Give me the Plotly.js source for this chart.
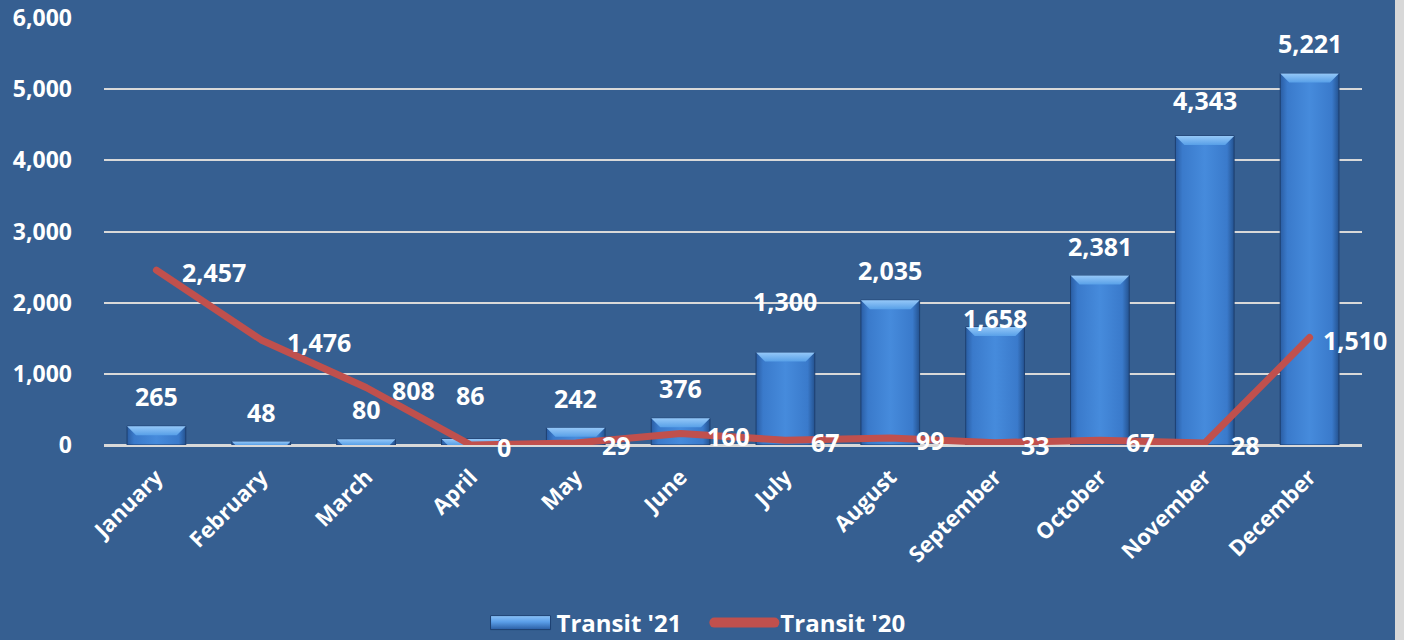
<!DOCTYPE html>
<html>
<head>
<meta charset="utf-8">
<script src="https://cdn.plot.ly/plotly-3.0.1.min.js"></script>
<style>
  html, body { margin: 0; padding: 0; background: #365f91; }
  #chart { width: 1404px; height: 640px; }
</style>
</head>
<body>
<div id="chart"></div>
<script>
const months = ['January','February','March','April','May','June','July','August','September','October','November','December'];
const transit21 = [265, 48, 80, 86, 242, 376, 1300, 2035, 1658, 2381, 4343, 5221];
const transit20 = [2457, 1476, 808, 0, 29, 160, 67, 99, 33, 67, 28, 1510];
const yTicks = [0, 1000, 2000, 3000, 4000, 5000, 6000];

// manual label nudges (pixels) as placed in the original chart
const barLabelNudge = { 3: 14, 6: 21, 8: -21, 10: 6 };
const lineLabelNudgeX = { 11: -13 };

const FONT = 'Open Sans, Noto Sans, sans-serif';
const fmt = v => v.toLocaleString('en-US');

const barTrace = {
  type: 'bar', name: "Transit '21", x: months, y: transit21,
  marker: { color: '#3f80d4', line: { color: '#1d3f70', width: 1 } },
  hoverinfo: 'none'
};
const lineTrace = {
  type: 'scatter', mode: 'lines', name: "Transit '20", x: months, y: transit20,
  line: { color: '#c0504d', width: 7 },
  hoverinfo: 'none'
};

const annotations = [];
transit21.forEach((v, i) => {
  annotations.push({
    x: months[i], y: v, xref: 'x', yref: 'y', text: '<b>' + fmt(v) + '</b>',
    showarrow: false, yanchor: 'bottom', yshift: 11 + (barLabelNudge[i] || 0),
    font: { family: FONT, size: 25, color: '#ffffff' }
  });
});
transit20.forEach((v, i) => {
  annotations.push({
    x: months[i], y: v, xref: 'x', yref: 'y', text: '<b>' + fmt(v) + '</b>',
    showarrow: false, xanchor: 'left', yanchor: 'middle',
    xshift: 24 + (lineLabelNudgeX[i] || 0), yshift: -2,
    font: { family: FONT, size: 25, color: '#ffffff' }
  });
});

const layout = {
  width: 1404, height: 640,
  paper_bgcolor: '#365f91', plot_bgcolor: '#365f91',
  margin: { l: 104, r: 42, t: 18, b: 195, autoexpand: false },
  bargap: 0.44,
  showlegend: true,
  legend: {
    orientation: 'h', xref: 'container', yref: 'container',
    x: 0.489, xanchor: 'center', y: (640 - 623) / 640, yanchor: 'middle',
    font: { family: FONT, size: 24, color: '#ffffff', weight: 'bold' },
    itemwidth: 60, traceorder: 'normal', bgcolor: 'rgba(0,0,0,0)', tracegroupgap: 0
  },
  xaxis: {
    type: 'category', range: [-0.5, 11.5], automargin: false,
    tickangle: -45, showgrid: false, showline: false, zeroline: false,
    tickfont: { family: FONT, size: 22, color: '#ffffff', weight: 'bold' },
    ticks: '', ticklabelstandoff: 14, fixedrange: true
  },
  yaxis: {
    range: [0, 6000], tickvals: yTicks, ticktext: yTicks.map(fmt), automargin: false,
    showgrid: true, gridcolor: '#d9d9d9', gridwidth: 2,
    zeroline: true, zerolinecolor: '#d9d9d9', zerolinewidth: 3,
    showline: false, ticks: '', ticklabelstandoff: 31,
    tickfont: { family: FONT, size: 23, color: '#ffffff', weight: 'bold' },
    fixedrange: true
  },
  shapes: [{
    type: 'rect', xref: 'paper', yref: 'paper',
    x0: (1395 - 104) / 1258, x1: 1.05, y0: -0.5, y1: 1.1,
    fillcolor: '#d8d8d8', line: { width: 0 }, layer: 'above'
  }],
  annotations: annotations
};

Plotly.newPlot('chart', [barTrace, lineTrace], layout, { displayModeBar: false, staticPlot: true }).then(gd => {
  const svg = gd.querySelector('.main-svg');
  const NS = 'http://www.w3.org/2000/svg';
  let defs = svg.querySelector('defs');
  if (!defs) { defs = document.createElementNS(NS, 'defs'); svg.insertBefore(defs, svg.firstChild); }
  function grad(id, stops, vertical) {
    const g = document.createElementNS(NS, 'linearGradient');
    g.setAttribute('id', id);
    g.setAttribute('x1', '0'); g.setAttribute('y1', '0');
    g.setAttribute('x2', vertical ? '0' : '1'); g.setAttribute('y2', vertical ? '1' : '0');
    stops.forEach(([o, c]) => {
      const s = document.createElementNS(NS, 'stop');
      s.setAttribute('offset', o); s.setAttribute('stop-color', c);
      g.appendChild(s);
    });
    defs.appendChild(g);
  }
  grad('barBody', [['0', '#2a5da3'], ['0.12', '#3a7acb'], ['0.5', '#468bdc'], ['0.88', '#3a7acb'], ['1', '#24528f']], false);
  grad('barTop', [['0', '#95c8f8'], ['1', '#58a0e8']], true);
  grad('legBar', [['0', '#8cc2f7'], ['0.45', '#5a9ee8'], ['1', '#2a5da3']], true);
  gd.querySelectorAll('.barlayer .point path').forEach(p => {
    p.style.fill = 'url(#barBody)';
    const b = p.getBBox();
    const bev = Math.min(9, b.height);
    if (bev > 0.5) {
      const poly = document.createElementNS(NS, 'path');
      const x0 = b.x, x1 = b.x + b.width, y0 = b.y;
      poly.setAttribute('d', `M${x0},${y0}H${x1}L${x1 - bev},${y0 + bev}H${x0 + bev}Z`);
      poly.setAttribute('fill', 'url(#barTop)');
      p.parentNode.appendChild(poly);
    }
  });
  // legend: remove clipping so entries can be spaced like the original
  gd.querySelectorAll('.legend, .legend *').forEach(el => el.removeAttribute('clip-path'));
  const traces = gd.querySelectorAll('.legend .traces');
  traces.forEach((t, idx) => {
    const txt = t.querySelector('text.legendtext');
    const tx = txt ? parseFloat(txt.getAttribute('x')) : 70;
    t.querySelectorAll('.legendpoints path').forEach(bp => {
      let el = bp;
      while (el && el !== t) { if (el.tagName === 'g' || el.tagName === 'path') el.setAttribute('transform', ''); el = el.parentNode; }
      bp.setAttribute('d', `M${tx - 66},7H${tx - 6}V-7H${tx - 66}Z`);
      bp.style.fill = 'url(#legBar)';
      bp.style.stroke = '#1d3f70';
      bp.style.strokeWidth = '1px';
    });
    t.querySelectorAll('.legendlines path').forEach(lp => {
      lp.setAttribute('d', `M${tx - 66},0H${tx - 6}`);
      lp.style.strokeLinecap = 'round';
      lp.style.strokeWidth = '10px';
    });
    if (idx === 1) {
      const tr = t.getAttribute('transform') || '';
      const m = tr.match(/translate\(\s*([-\d.]+)[ ,]+([-\d.]+)\s*\)/);
      if (m) t.setAttribute('transform', `translate(${parseFloat(m[1]) + 24},${m[2]})`);
    }
  });
  gd.querySelectorAll('.scatterlayer .js-line').forEach(l => {
    l.style.strokeLinejoin = 'round';
    l.style.strokeLinecap = 'round';
  });
});
</script>
</body>
</html>
